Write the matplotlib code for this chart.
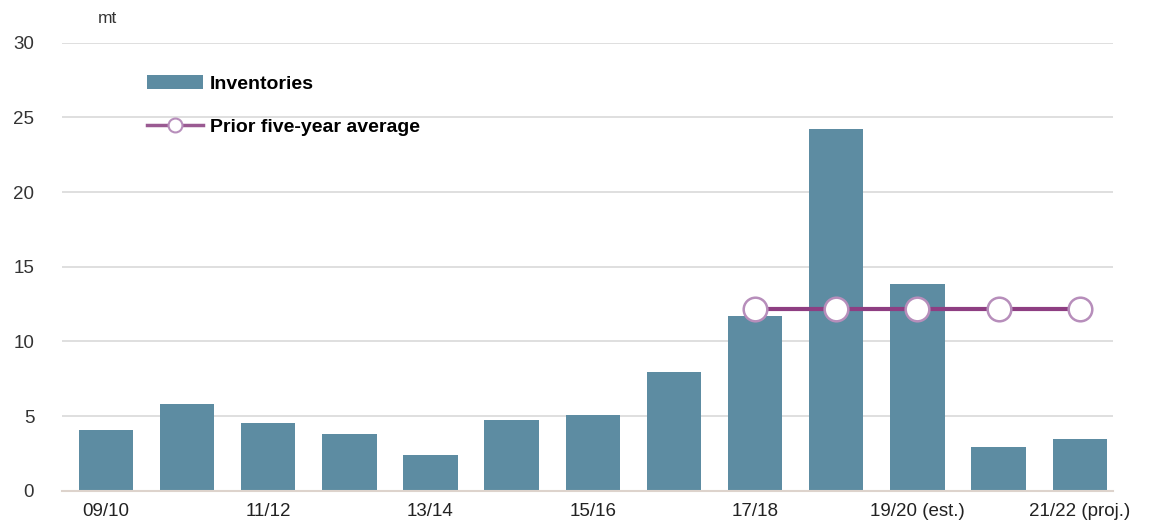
import matplotlib
matplotlib.use("Agg")
import matplotlib.pyplot as plt
import numpy as np
from matplotlib.lines import Line2D
from matplotlib.patches import Patch

plt.rcParams["font.family"] = ["Liberation Sans", "DejaVu Sans"]

# Inventories by season (million tonnes)
seasons = ["09/10", "10/11", "11/12", "12/13", "13/14", "14/15", "15/16",
           "16/17", "17/18", "18/19", "19/20 (est.)", "20/21", "21/22 (proj.)"]
inventories = [4.05, 5.8, 4.55, 3.78, 2.42, 4.72, 5.08, 7.95, 11.7, 24.2, 13.83, 2.9, 3.44]
# prior five-year average, shown from 17/18 onwards
avg_seasons = ["17/18", "18/19", "19/20 (est.)", "20/21", "21/22 (proj.)"]
avg_values = [12.15, 12.15, 12.15, 12.15, 12.15]

bar_color = "#5D8CA2"
line_color = "#8E3E82"
marker_edge = "#B78EBB"

fig = plt.figure(figsize=(11.57, 5.29), dpi=100)
ax = fig.add_axes([0.0536, 0.0724, 0.9084, 0.8466])

x = np.arange(len(seasons))
ax.bar(x, inventories, width=0.67, color=bar_color, zorder=2)

avg_x = [seasons.index(s) for s in avg_seasons]
ax.plot(avg_x, avg_values, color=line_color, lw=3, marker="o", ms=17,
        mfc="white", mec=marker_edge, mew=1.8, zorder=3)

ax.set_ylim(0, 30)
ax.set_xlim(-0.54, 12.41)
ax.set_yticks([0, 5, 10, 15, 20, 25, 30])
ax.yaxis.grid(True, color="#DCDCDC", lw=1.3, zorder=0)
ax.set_axisbelow(True)
for side in ["top", "right", "left"]:
    ax.spines[side].set_visible(False)
ax.spines["bottom"].set_color("#DDD3CC")
ax.spines["bottom"].set_linewidth(1.5)

ax.set_xticks(x[::2])
ax.set_xticklabels(seasons[::2])
ax.tick_params(axis="both", length=0, labelsize=13.5)
ax.tick_params(axis="y", pad=20, labelcolor="#333333")
ax.tick_params(axis="x", pad=9, labelcolor="#222222")

fig.text(0.0925, 0.965, "mt", fontsize=12.5, ha="center", va="center", color="#333333")

handles = [Patch(facecolor=bar_color, edgecolor="none"),
           Line2D([], [], color="#9A5A92", lw=2.5, marker="o", ms=10,
                  mfc="white", mec=marker_edge, mew=1.5)]
ax.legend(handles, ["Inventories", "Prior five-year average"],
          loc="upper left", bbox_to_anchor=(147 / 1157, 1 - 75 / 529),
          bbox_transform=fig.transFigure, frameon=False,
          prop={"size": 14, "weight": "bold"},
          handlelength=2.9, handletextpad=0.35, labelspacing=1.3,
          borderpad=0, borderaxespad=0)

fig.savefig("out.png", dpi=100)
